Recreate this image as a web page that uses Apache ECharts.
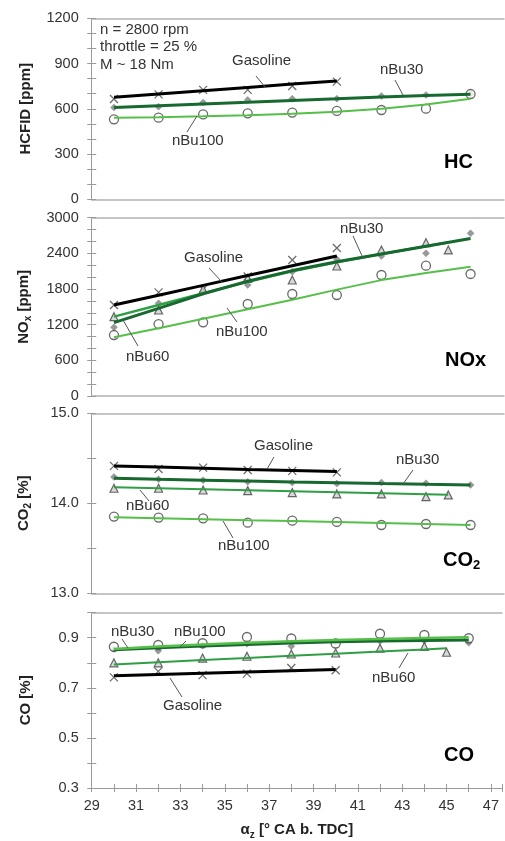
<!DOCTYPE html>
<html><head><meta charset="utf-8">
<script src="https://cdn.jsdelivr.net/npm/echarts@6/dist/echarts.min.js"></script>
<style>html,body{margin:0;padding:0;background:#fff}#c{width:505px;height:841px}</style>
</head><body><div id="c"></div>
<script>
// ---- categories / x values ----
const xAll = [30, 32, 34, 36, 38, 40, 42, 44, 46];
const xGas = [30, 32, 34, 36, 38, 40];
const xBu60 = [30, 32, 34, 36, 38, 40, 42, 44, 45];

// ---- tick labels ----
const xTickLabels = [29, 31, 33, 35, 37, 39, 41, 43, 45, 47];
const hcTickLabels = [0, 300, 600, 900, 1200];
const noxTickLabels = [0, 600, 1200, 1800, 2400, 3000];
const co2TickLabels = [13.0, 14.0, 15.0];
const coTickLabels = [0.3, 0.5, 0.7, 0.9];

// ---- HC [ppm] ----
const hcGasPts   = [665, 696, 725, 725, 751, 780];
const hcGasFit   = [676, 698, 720, 742, 764, 785];
const hcBu30Pts  = [608, 614, 641, 659, 667, 667, 685, 692, 700];
const hcBu30Fit  = [608, 620, 632, 643, 655, 666, 678, 688, 697];
const hcBu100Pts = [530, 541, 563, 570, 575, 586, 592, 601, 698];
const hcBu100Fit = [541, 544, 550, 558, 568, 581, 600, 628, 667];

// ---- NOx [ppm] ----
const noxGasPts   = [1531, 1744, 1795, 2010, 2288, 2490];
const noxGasFit   = [1531, 1696, 1861, 2026, 2191, 2356];
const noxBu30Pts  = [1155, 1559, 1755, 1868, 2090, 2300, 2356, 2400, 2737];
const noxBu30Fit  = [1234, 1475, 1720, 1930, 2110, 2260, 2390, 2520, 2650];
const noxBu60Pts  = [1335, 1447, 1795, 1980, 1952, 2187, 2457, 2580, 2457];
const noxBu60Fit  = [1335, 1530, 1730, 1920, 2100, 2250, 2390, 2520, 2585];
const noxBu100Pts = [1026, 1211, 1239, 1548, 1716, 1699, 2036, 2193, 2053];
const noxBu100Fit = [987, 1140, 1300, 1460, 1620, 1790, 1950, 2070, 2176];

// ---- CO2 [%] ----
const co2GasPts   = [14.415, 14.381, 14.396, 14.370, 14.360, 14.344];
const co2GasFit   = [14.415, 14.402, 14.389, 14.376, 14.364, 14.352];
const co2Bu30Pts  = [14.293, 14.267, 14.256, 14.240, 14.230, 14.219, 14.230, 14.222, 14.204];
const co2Bu30Fit  = [14.278, 14.267, 14.257, 14.247, 14.237, 14.228, 14.219, 14.211, 14.204];
const co2Bu60Pts  = [14.167, 14.167, 14.148, 14.141, 14.119, 14.104, 14.104, 14.074, 14.093];
const co2Bu60Fit  = [14.178, 14.167, 14.156, 14.145, 14.134, 14.123, 14.112, 14.101, 14.095];
const co2Bu100Pts = [13.852, 13.841, 13.833, 13.785, 13.807, 13.793, 13.759, 13.770, 13.759];
const co2Bu100Fit = [13.844, 13.833, 13.823, 13.812, 13.802, 13.792, 13.781, 13.770, 13.760];

// ---- CO [%] ----
const coGasPts   = [0.742, 0.766, 0.751, 0.757, 0.779, 0.770];
const coGasFit   = [0.748, 0.753, 0.758, 0.763, 0.768, 0.773];
const coBu30Pts  = [0.855, 0.848, 0.870, 0.876, 0.866, 0.883, 0.887, 0.888, 0.880];
const coBu30Fit  = [0.852, 0.860, 0.867, 0.873, 0.879, 0.884, 0.887, 0.889, 0.891];
const coBu60Pts  = [0.800, 0.800, 0.819, 0.826, 0.835, 0.839, 0.858, 0.865, 0.842];
const coBu60Fit  = [0.793, 0.802, 0.811, 0.819, 0.828, 0.836, 0.845, 0.853, 0.858];
const coBu100Pts = [0.864, 0.871, 0.878, 0.903, 0.897, 0.877, 0.916, 0.911, 0.898];
const coBu100Fit = [0.855, 0.865, 0.873, 0.880, 0.886, 0.891, 0.895, 0.899, 0.902];

// ---- styling ----
const FF = '"Liberation Sans", Arial, Helvetica, sans-serif';
const C_GAS = '#000000', C_30 = '#17692f', C_60 = '#2f9e44', C_100 = '#55bf4a';
const AX = '#9a9a9a', BORDER = '#b3b3b3', TXT = '#333333';

const gridBoxes = [
  {top: 18.3, height: 181},
  {top: 217.7, height: 178.3},
  {top: 413.3, height: 180},
  {top: 612.7, height: 179.3}
];
const panels = [
  {min: 0, max: 1200, interval: 100, labels: hcTickLabels, fmt: v => String(Math.round(v)),
   name: 'HCFID [ppm]'},
  {min: 0, max: 3000, interval: 200, labels: noxTickLabels, fmt: v => String(Math.round(v)),
   name: '{a|NO}{s|x}{a| [ppm]}'},
  {min: 13, max: 15, interval: 0.5, labels: co2TickLabels, fmt: v => v.toFixed(1),
   name: '{a|CO}{s|2}{a| [%]}'},
  {min: 0.3, max: 1.0, interval: 0.1, labels: coTickLabels, fmt: v => v.toFixed(1),
   name: 'CO [%]'}
];
const nameRich = {
  a: {fontFamily: FF, fontSize: 15, fontWeight: 'bold', color: '#222', lineHeight: 20},
  s: {fontFamily: FF, fontSize: 10, fontWeight: 'bold', color: '#222', lineHeight: 10, verticalAlign: 'bottom'}
};
const has = (arr, v) => arr.some(l => Math.abs(l - v) < 1e-6);

const grid = gridBoxes.map(b => ({left: 91.7, right: 1, top: b.top, height: b.height}));
const xAxis = [], yAxis = [];
gridBoxes.forEach((b, g) => {
  const last = g === 3;
  xAxis.push({
    type: 'value', gridIndex: g, position: 'bottom', min: 29, max: 47.5, interval: 1,
    axisLine: {show: true, onZero: false, lineStyle: {color: last ? AX : BORDER, width: last ? 1 : 1.5}},
    axisTick: {show: last, length: 4, lineStyle: {color: AX}},
    axisLabel: {show: last, margin: 10, fontFamily: FF, fontSize: 14.5, color: TXT,
      formatter: v => has(xTickLabels, v) ? String(v) : ''},
    splitLine: {show: false},
    name: last ? '{a|α}{s|z}{a| [° CA b. TDC]}' : '',
    nameLocation: 'middle', nameGap: 32,
    nameTextStyle: {rich: nameRich}
  });
  xAxis.push({
    type: 'value', gridIndex: g, position: 'top', min: 29, max: 47.5,
    axisLine: {show: true, onZero: false, lineStyle: {color: BORDER, width: 1.5}},
    axisTick: {show: false}, axisLabel: {show: false}, splitLine: {show: false}
  });
  const p = panels[g];
  yAxis.push({
    type: 'value', gridIndex: g, position: 'left', min: p.min, max: p.max, interval: p.interval,
    axisLine: {show: true, onZero: false, lineStyle: {color: AX}},
    axisTick: {show: true, length: 4.5, lineStyle: {color: AX}},
    axisLabel: {margin: 13, fontFamily: FF, fontSize: 14.5, color: TXT,
      formatter: v => has(p.labels, v) ? p.fmt(v) : ''},
    splitLine: {show: false},
    name: p.name, nameLocation: 'middle', nameGap: 58, nameRotate: 90,
    nameTextStyle: {fontFamily: FF, fontSize: 15, fontWeight: 'bold', color: '#222', rich: nameRich}
  });
  yAxis.push({
    type: 'value', gridIndex: g, position: 'left', min: p.min, max: p.max, interval: p.interval,
    axisLine: {show: false, onZero: false},
    axisTick: {show: true, inside: true, length: 4.5, lineStyle: {color: AX}},
    axisLabel: {show: false}, splitLine: {show: false}
  });
});
// inside ticks of the bottom x axis so ticks cross the line
xAxis.push({
  type: 'value', gridIndex: 3, position: 'bottom', min: 29, max: 47.5, interval: 1,
  axisLine: {show: false, onZero: false},
  axisTick: {show: true, inside: true, length: 4, lineStyle: {color: AX}},
  axisLabel: {show: false}, splitLine: {show: false}
});

const SYM = {
  x: {symbol: 'path://M0,0L10,10M0,10L10,0', size: 8,
      style: {color: 'rgba(0,0,0,0)', borderColor: '#444', borderWidth: 1.2}},
  circ: {symbol: 'circle', size: 9, style: {color: '#fff', borderColor: '#444', borderWidth: 1.3}},
  tri: {symbol: 'triangle', size: 8, style: {color: '#d0d0d0', borderColor: '#444', borderWidth: 1.2}},
  dia: {symbol: 'diamond', size: 7, style: {color: '#808080', borderColor: '#808080', borderWidth: 0.5}}
};
const series = [];
function pts(g, xs, ys, key) {
  const s = SYM[key];
  series.push({type: 'scatter', xAxisIndex: g * 2, yAxisIndex: g * 2,
    data: xs.map((x, i) => [x, ys[i]]), symbol: s.symbol, symbolSize: s.size,
    itemStyle: s.style, z: 2, silent: true, animation: false});
}
function fit(g, xs, ys, color, width) {
  series.push({type: 'line', xAxisIndex: g * 2, yAxisIndex: g * 2,
    data: xs.map((x, i) => [x, ys[i]]), symbol: 'none', showSymbol: false,
    lineStyle: {color, width}, z: 3, silent: true, animation: false});
}
// HC
pts(0, xGas, hcGasPts, 'x'); pts(0, xAll, hcBu30Pts, 'dia'); pts(0, xAll, hcBu100Pts, 'circ');
fit(0, xAll, hcBu100Fit, C_100, 2); fit(0, xAll, hcBu30Fit, C_30, 3); fit(0, xGas, hcGasFit, C_GAS, 3);
// NOx
pts(1, xGas, noxGasPts, 'x'); pts(1, xAll, noxBu30Pts, 'dia'); pts(1, xBu60, noxBu60Pts, 'tri'); pts(1, xAll, noxBu100Pts, 'circ');
fit(1, xAll, noxBu100Fit, C_100, 2); fit(1, xBu60, noxBu60Fit, C_60, 2.5); fit(1, xAll, noxBu30Fit, C_30, 3); fit(1, xGas, noxGasFit, C_GAS, 3);
// CO2
pts(2, xGas, co2GasPts, 'x'); pts(2, xAll, co2Bu30Pts, 'dia'); pts(2, xBu60, co2Bu60Pts, 'tri'); pts(2, xAll, co2Bu100Pts, 'circ');
fit(2, xAll, co2Bu100Fit, C_100, 2); fit(2, xBu60, co2Bu60Fit, C_60, 2); fit(2, xAll, co2Bu30Fit, C_30, 3); fit(2, xGas, co2GasFit, C_GAS, 3);
// CO
pts(3, xGas, coGasPts, 'x'); pts(3, xAll, coBu30Pts, 'dia'); pts(3, xBu60, coBu60Pts, 'tri'); pts(3, xAll, coBu100Pts, 'circ');
fit(3, xBu60, coBu60Fit, C_60, 2); fit(3, xAll, coBu30Fit, C_30, 3); fit(3, xAll, coBu100Fit, C_100, 2.5); fit(3, xGas, coGasFit, C_GAS, 3);

// ---- annotations ----
const annoFont = '15px ' + FF;
function txt(x, y, s) {
  return {type: 'text', x, y, z: 10, silent: true,
    style: {text: s, font: annoFont, fill: TXT, textAlign: 'left', textVerticalAlign: 'middle', align: 'left', verticalAlign: 'middle'}};
}
function ln(x1, y1, x2, y2) {
  return {type: 'line', z: 10, silent: true, shape: {x1, y1, x2, y2}, style: {stroke: '#555', lineWidth: 1}};
}
function big(x, y, s, rich) {
  return {type: 'text', x, y, z: 10, silent: true,
    style: {text: s, font: 'bold 20px ' + FF, fill: '#000', textAlign: 'left', textVerticalAlign: 'middle', align: 'left', verticalAlign: 'middle', rich}};
}
const graphic = [
  txt(100, 29.5, 'n = 2800 rpm'), txt(100, 47, 'throttle = 25 %'), txt(100, 64.5, 'M ~ 18 Nm'),
  // HC
  txt(232, 61, 'Gasoline'), ln(256, 76, 265, 87),
  txt(380, 69.5, 'nBu30'), ln(395, 80, 403, 95),
  txt(172, 141, 'nBu100'), ln(187, 132, 197, 116),
  big(444, 162.5, 'HC'),
  // NOx
  txt(184, 257.5, 'Gasoline'), ln(209, 268, 222, 282),
  txt(340, 228.5, 'nBu30'), ln(353, 236, 363, 258),
  txt(216, 332, 'nBu100'), ln(237, 322, 227, 308),
  txt(126, 357, 'nBu60'), ln(138, 346, 123, 320),
  big(445, 360, 'NOx'),
  // CO2
  txt(254, 445.5, 'Gasoline'), ln(274, 457, 267, 469),
  txt(396, 459.5, 'nBu30'), ln(413, 470, 403, 484),
  txt(126, 506, 'nBu60'), ln(140, 490, 149, 501),
  txt(218, 546, 'nBu100'), ln(233, 538, 223, 521),
  big(443, 560, '{b|CO}{s|2}', {
    b: {fontFamily: FF, fontSize: 20, fontWeight: 'bold', fill: '#000', lineHeight: 24},
    s: {fontFamily: FF, fontSize: 13, fontWeight: 'bold', fill: '#000', lineHeight: 13, verticalAlign: 'bottom'}
  }),
  // CO
  txt(111, 632, 'nBu30'), ln(122, 639, 128, 648),
  txt(174, 631.5, 'nBu100'), ln(186, 641, 180, 647),
  txt(372, 678, 'nBu60'), ln(399, 668, 408, 653),
  txt(163, 705.5, 'Gasoline'), ln(182, 697, 170, 678),
  big(444, 755.5, 'CO')
];

const chart = echarts.init(document.getElementById('c'), null, {renderer: 'canvas'});
chart.setOption({
  animation: false,
  backgroundColor: '#fff',
  grid, xAxis, yAxis, series, graphic
});
</script>
</body></html>
